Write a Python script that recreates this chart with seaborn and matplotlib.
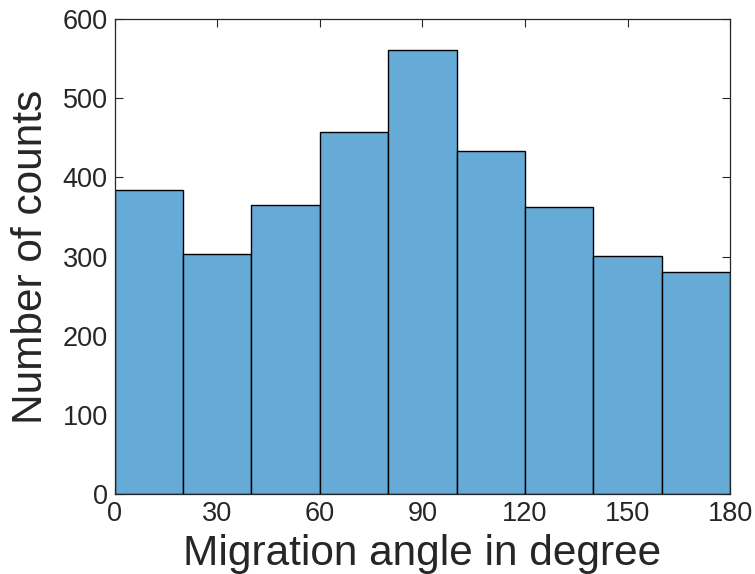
import matplotlib
matplotlib.use("Agg")
import matplotlib.pyplot as plt
import seaborn as sns
import numpy as np

bin_edges = [0, 20, 40, 60, 80, 100, 120, 140, 160, 180]
counts = [384, 303, 365, 457, 561, 433, 363, 301, 280]
x_ticks = [0, 30, 60, 90, 120, 150, 180]
y_ticks = [0, 100, 200, 300, 400, 500, 600]

sns.set_style("ticks")
plt.rcParams['font.family'] = ['Liberation Sans', 'DejaVu Sans']

centers = [(bin_edges[i] + bin_edges[i + 1]) / 2 for i in range(len(counts))]

fig = plt.figure(figsize=(7.55, 5.74), dpi=100)
ax = fig.add_axes([0.152, 0.139, 0.815, 0.828])
sns.histplot(x=centers, weights=counts, bins=bin_edges, ax=ax,
             color="#66AAD7", alpha=1.0, edgecolor="black", linewidth=1.0)

ax.set_xlim(0, 180)
ax.set_ylim(0, 600)
ax.set_xticks(x_ticks)
ax.set_yticks(y_ticks)
ax.tick_params(direction="in", length=6, width=0.8, top=True, right=True,
               labelsize=19.5, color="#262626", labelcolor="#262626", pad=5)
for s in ax.spines.values():
    s.set_visible(True)
    s.set_linewidth(0.9)
    s.set_color("#262626")
ax.set_xlabel("Migration angle in degree", fontsize=30.5, color="#262626", labelpad=5)
ax.set_ylabel("Number of counts", fontsize=30.5, color="#262626", labelpad=8)

fig.savefig("out.png", dpi=100)
